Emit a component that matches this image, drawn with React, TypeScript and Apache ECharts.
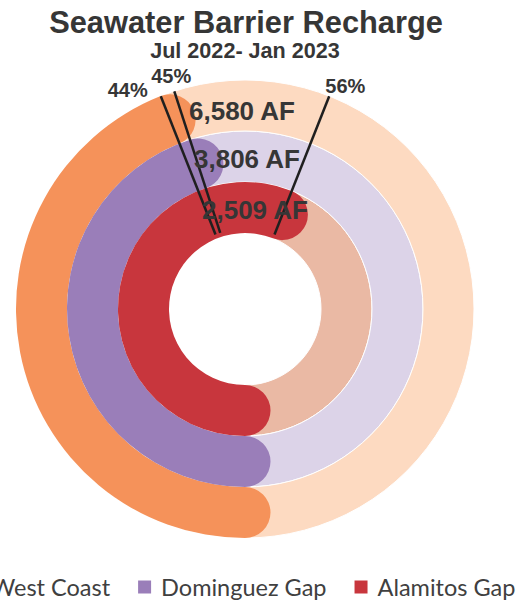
import React, { useEffect, useRef } from "react";
import * as echarts from "echarts";

// ---- data ----
const categories = ["Alamitos Gap", "Dominguez Gap", "West Coast"]; // inner -> outer ring
const percentValues = [56, 45, 44];
const volumeLabels = ["2,509 AF", "3,806 AF", "6,580 AF"];
const legendOrder = ["West Coast", "Dominguez Gap", "Alamitos Gap"];
const fullScale = 100;
const titleText = "Seawater Barrier Recharge";
const subtitleText = "Jul 2022- Jan 2023";

// ---- styles ----
const strongColors: Record<string, string> = {
  "West Coast": "#F5925A",
  "Dominguez Gap": "#9A7EB9",
  "Alamitos Gap": "#C8363D",
};
const lightColors: Record<string, string> = {
  "West Coast": "#FDDAC1",
  "Dominguez Gap": "#DCD3E8",
  "Alamitos Gap": "#EAB9A4",
};
const CX = 245;
const CY = 309;
const R_OUT = 229;
const R_IN = 76;
const TEXT = "#363636";
const SANS = "Arial, 'Liberation Sans', sans-serif";
const LEG_FONT = "Lato, 'Open Sans', sans-serif";

const ringLabelOffsets: number[][] = [[10, 2], [2, 2], [-3, 5]];
const pctLabelStyles: any[] = [
  { position: "top", distance: 0, offset: [16, 0] },
  { position: "top", distance: 5, offset: [-3, 0] },
  { position: "left", distance: 13, offset: [0, -6] },
];

export default function App() {
  const ref = useRef<HTMLDivElement>(null);
  useEffect(() => {
    if (!ref.current) return;
    const chart = echarts.init(ref.current, null, { renderer: "svg" });

    const barCommon = {
      type: "bar",
      coordinateSystem: "polar",
      polarIndex: 0,
      barCategoryGap: "0%",
      barGap: "-100%",
    };

    const series: any[] = [];
    // background rings
    series.push({
      ...barCommon,
      name: "bg",
      silent: true,
      z: 1,
      data: categories.map((c) => ({
        value: fullScale,
        itemStyle: { color: lightColors[c], borderColor: "#ffffff", borderWidth: 1 },
      })),
    });
    // progress rings
    legendOrder.forEach((name) => {
      series.push({
        ...barCommon,
        name,
        roundCap: true,
        z: 2,
        itemStyle: { color: strongColors[name] },
        data: categories.map((c, i) => (c === name ? percentValues[i] : "-")),
      });
    });
    // volume labels
    series.push({
      ...barCommon,
      name: "labels",
      silent: true,
      z: 6,
      itemStyle: { color: "rgba(0,0,0,0)" },
      label: {
        show: true,
        position: "middle",
        rotate: 0,
        fontFamily: SANS,
        fontWeight: "bold",
        fontSize: 26,
        color: TEXT,
      },
      data: categories.map((c, i) => ({
        value: fullScale,
        label: { formatter: volumeLabels[i], offset: ringLabelOffsets[i] },
      })),
    });
    // percent lines
    percentValues.forEach((v, i) => {
      series.push({
        type: "line",
        coordinateSystem: "polar",
        polarIndex: 1,
        silent: true,
        clip: false,
        z: 5,
        symbol: "circle",
        symbolSize: 0,
        showSymbol: true,
        lineStyle: { color: "#1f1f1f", width: 2.5 },
        itemStyle: { color: "#1f1f1f" },
        label: { show: false },
        data: [
          [35, v],
          {
            value: [100, v],
            label: {
              show: true,
              formatter: v + "%",
              fontFamily: SANS,
              fontWeight: "bold",
              fontSize: 20,
              color: TEXT,
              ...pctLabelStyles[i],
            },
          },
        ],
      });
    });

    const option: any = {
      animation: false,
      backgroundColor: "#ffffff",
      polar: [
        { center: [CX, CY], radius: [R_IN, R_OUT] },
        { center: [CX, CY], radius: [0, R_OUT] },
      ],
      angleAxis: [
        { polarIndex: 0, type: "value", min: 0, max: fullScale, startAngle: 270, clockwise: true, show: false },
        { polarIndex: 1, type: "value", min: 0, max: fullScale, startAngle: 270, clockwise: true, show: false },
      ],
      radiusAxis: [
        { polarIndex: 0, type: "category", data: categories, show: false },
        { polarIndex: 1, type: "value", min: 0, max: 100, show: false },
      ],
      legend: {
        data: legendOrder,
        left: -32,
        top: 575,
        padding: 0,
        itemWidth: 13,
        itemHeight: 13,
        itemGap: 28,
        icon: "rect",
        selectedMode: false,
        textStyle: { fontSize: 23.5, color: "#404040", fontFamily: LEG_FONT, padding: [0, 0, 0, 5] },
      },
      graphic: [
        {
          type: "text",
          x: 246,
          y: 22.5,
          style: {
            text: titleText,
            fontFamily: SANS,
            fontWeight: "bold",
            fontSize: 30.8,
            fill: TEXT,
            align: "center",
            verticalAlign: "middle",
          },
        },
        {
          type: "text",
          x: 245,
          y: 50.5,
          style: {
            text: subtitleText,
            fontFamily: SANS,
            fontWeight: "bold",
            fontSize: 21.6,
            fill: TEXT,
            align: "center",
            verticalAlign: "middle",
          },
        },
      ],
      series,
    };
    chart.setOption(option);
    return () => chart.dispose();
  }, []);
  return (
    <div
      ref={ref}
      style={{ position: "fixed", left: 0, top: 0, width: 525, height: 601, background: "#fff" }}
    />
  );
}
